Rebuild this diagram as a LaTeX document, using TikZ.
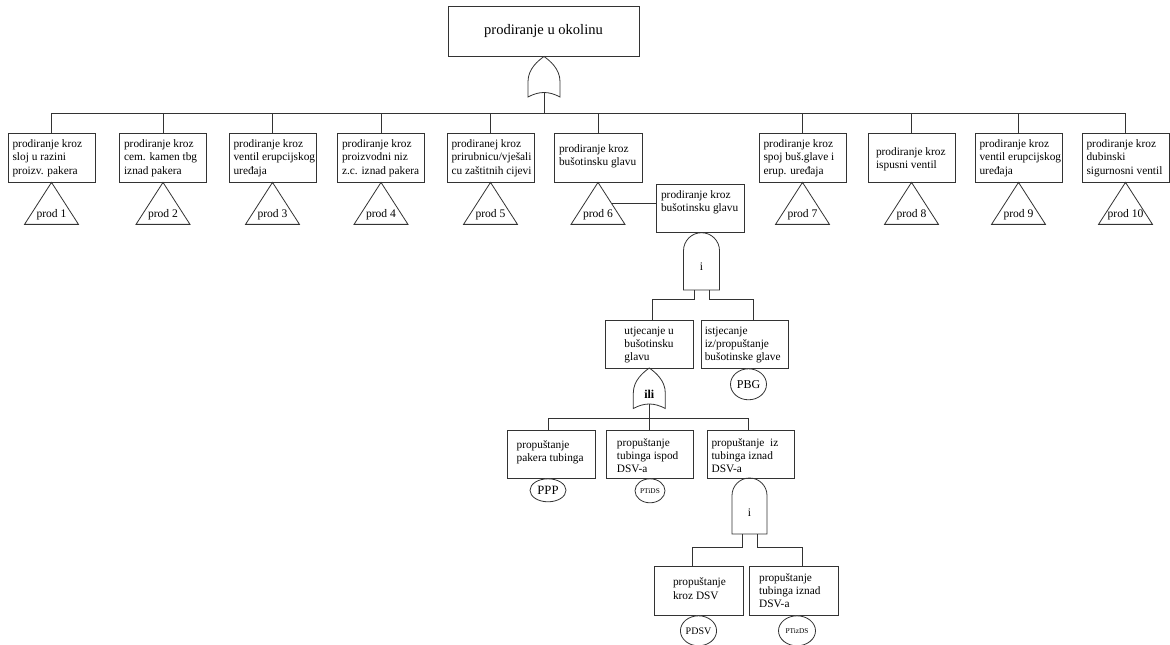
\documentclass[tikz,border=0pt]{standalone}
\usepackage{fontspec}
\setmainfont{Liberation Serif}
\usetikzlibrary{calc,shapes.geometric}
\tikzset{
  ln/.style={draw=black!80, line width=0.6pt},
  bx/.style={draw=black!80, line width=0.6pt, inner sep=0pt, minimum width=65.25pt, minimum height=36.75pt, font=\fontsize{8.5}{10}\selectfont},
  lbl/.style={inner sep=0pt, font=\fontsize{8.7}{10}\selectfont},
  evt/.style={ellipse, draw=black!80, line width=0.6pt, inner sep=0pt, fill=white}
}
\newcommand\boxtext[3]{\parbox[c][33pt][t]{64pt}{\raggedright\leftskip=#2\relax\rule{0pt}{#1}#3}}
\newcommand\orgate[4]{%
  \draw[ln] ({#1-#3},#4) -- ({#1-#3},{#4-0.38*(#4-#2)})
    .. controls ({#1-#3},{#2+0.3*(#4-#2)}) and ({#1-0.35*#3},{#2+0.1*(#4-#2)}) .. (#1,#2)
    .. controls ({#1+0.35*#3},{#2+0.1*(#4-#2)}) and ({#1+#3},{#2+0.3*(#4-#2)}) .. ({#1+#3},{#4-0.38*(#4-#2)})
    -- ({#1+#3},#4) .. controls ({#1+0.3*#3},{#4-6}) and ({#1-0.3*#3},{#4-6}) .. cycle;}
\newcommand\andgate[4]{%
  \draw[ln] ({#1-#3},#4) -- ({#1-#3},{#2+#3})
    .. controls ({#1-#3},{#2+0.448*#3}) and ({#1-0.552*#3},#2) .. (#1,#2)
    .. controls ({#1+0.552*#3},#2) and ({#1+#3},{#2+0.448*#3}) .. ({#1+#3},{#2+#3})
    -- ({#1+#3},#4) -- cycle;}
\begin{document}
\begin{tikzpicture}[x=0.75pt,y=-0.75pt]
\fill[white] (0,0) rectangle (1170,645);
\useasboundingbox (0,0) rectangle (1170,645);

% top event
\node[bx, minimum width=143.25pt, minimum height=37.5pt, font=\fontsize{10.9}{13}\selectfont] (top) at (543.5,31) {prodiranje u okolinu};
\orgate{544}{56.5}{16}{97}
\coordinate (g0out) at (544,92.5);
\coordinate (bus) at (0,113);
\draw[ln] (g0out) -- (g0out |- bus);

% first row
\node[bx] (b1) at (51.5,157.5) {\boxtext{9pt}{2.8pt}{prodiranje kroz\\sloj u razini\\proizv. pakera}};
\node[bx] (b2) at (163,157.5) {\boxtext{9pt}{2.8pt}{prodiranje kroz\\cem. kamen tbg\\iznad pakera}};
\node[bx] (b3) at (272.5,157.5) {\boxtext{9pt}{2.8pt}{prodiranje kroz\\ventil erupcijskog\\uređaja}};
\node[bx] (b4) at (381,157.5) {\boxtext{9pt}{2.8pt}{prodiranje kroz\\proizvodni niz\\z.c. iznad pakera}};
\node[bx] (b5) at (490.5,157.5) {\boxtext{9pt}{2.8pt}{prodiranej kroz\\prirubnicu/vješali\\cu zaštitnih cijevi}};
\node[bx, minimum width=66pt] (b6) at (598,157.5) {\boxtext{12.4pt}{2.8pt}{prodiranje kroz\\bušotinsku glavu}};
\node[bx] (b7) at (802.5,157.5) {\boxtext{9pt}{2.8pt}{prodiranje kroz\\spoj buš.glave i\\erup. uređaja}};
\node[bx] (b8) at (911.5,157.5) {\boxtext{15pt}{5.4pt}{prodiranje kroz\\ispusni ventil}};
\node[bx] (b9) at (1018.5,157.5) {\boxtext{9pt}{2.8pt}{prodiranje kroz\\ventil erupcijskog\\uređaja}};
\node[bx] (b10) at (1125.5,157.5) {\boxtext{9pt}{2.8pt}{prodiranje kroz\\dubinski\\sigurnosni ventil}};

\draw[ln] (b1.north |- bus) -- (b10.north |- bus);
\foreach \i in {1,...,10} {
  \draw[ln] (b\i.north) -- (b\i.north |- bus);
  \draw[ln] (b\i.south) -- ++(-27,42) -- ++(54,0) -- cycle;
  \node[lbl] (p\i) at ($(b\i.south)+(0,32)$) {prod \i};
}

% transfer of prod 6
\node[bx, minimum width=66pt, minimum height=36.5pt] (b11) at (700,208.4) {\boxtext{9pt}{2.8pt}{prodiranje kroz\\bušotinsku glavu}};
\coordinate (t6r) at ($(b6.south)+(13.5,21)$);
\draw[ln] (t6r) -- (t6r -| b11.west);

% AND gate 1
\andgate{701.5}{232.7}{18}{290}
\node[lbl] (ga1) at (701.5,267) {i};
\coordinate (a1l) at (694,290);
\coordinate (a1r) at (709,290);

\node[bx, minimum width=66pt, minimum height=36pt] (b21) at (649,344) {\boxtext{9pt}{13.6pt}{utjecanje u\\bušotinsku\\glavu}};
\node[bx, minimum height=36pt] (b22) at (744.5,344) {\boxtext{9pt}{2.2pt}{istjecanje\\iz/propuštanje\\bušotinske glave}};
\draw[ln] (a1l) -- ++(0,9) -| ($(b21.north)+(3,0)$);
\draw[ln] (a1r) -- ++(0,9) -| ($(b22.north)+(8.5,0)$);
\node[evt, minimum width=27pt, minimum height=23.25pt, anchor=north, font=\fontsize{9}{10}\selectfont] (pbg) at ($(b22.south)+(4,0)$) {PBG};

% OR gate ili
\orgate{649.3}{368}{16}{408.5}
\node[lbl, font=\fontsize{9}{10}\selectfont\bfseries] (go1) at (649.3,394) {ili};
\coordinate (o1) at (649.3,404);
\coordinate (bus2) at (0,418);

\node[bx, minimum width=66pt, minimum height=36pt] (b31) at (551,454) {\boxtext{12.4pt}{6.2pt}{propuštanje\\pakera tubinga}};
\node[bx, minimum height=36pt] (b32) at (649.5,454) {\boxtext{10.5pt}{7.6pt}{propuštanje\\tubinga ispod\\DSV-a}};
\node[bx, minimum height=36pt] (b33) at (750.5,454) {\boxtext{10.5pt}{2.8pt}{propuštanje\ \ iz\\tubinga iznad\\DSV-a}};
\coordinate (d31) at ($(b31.north)+(-3,0)$);
\coordinate (d33) at ($(b33.north)+(-2.5,0)$);
\draw[ln] (o1) -- (o1 |- bus2);
\draw[ln] (d31 |- bus2) -- (d33 |- bus2);
\draw[ln] (d31 |- bus2) -- (d31);
\draw[ln] (b32.north |- bus2) -- (b32.north);
\draw[ln] (d33 |- bus2) -- (d33);
\node[evt, minimum width=27pt, minimum height=17.25pt, anchor=north, font=\fontsize{9.5}{10}\selectfont] (ppp) at ($(b31.south)+(-3,0)$) {PPP};
\node[evt, minimum width=22.5pt, minimum height=18pt, anchor=north, font=\fontsize{5.5}{6}\selectfont] (ptids) at ($(b32.south)+(0.5,0)$) {PTiDS};

% AND gate 2
\andgate{749.5}{478}{17.5}{534}
\node[lbl] (ga2) at (749.5,513) {i};
\coordinate (a2l) at (742,534);
\coordinate (a2r) at (757,534);

\node[bx, minimum width=66.75pt] (b41) at (698.5,590.5) {\boxtext{13.1pt}{12.9pt}{propuštanje\\kroz DSV}};
\node[bx, minimum width=66.75pt] (b42) at (793.5,590.5) {\boxtext{9.4pt}{6.2pt}{propuštanje\\tubinga iznad\\DSV-a}};
\draw[ln] (a2l) -- ++(0,13) -| ($(b41.north)+(-6.5,0)$);
\draw[ln] (a2r) -- ++(0,13) -| ($(b42.north)+(8.5,0)$);
\node[evt, minimum width=26.25pt, minimum height=22.5pt, anchor=north, font=\fontsize{7.5}{8}\selectfont] (pdsv) at (b41.south) {PDSV};
\node[evt, minimum width=27.75pt, minimum height=22.5pt, anchor=north, font=\fontsize{5.5}{6}\selectfont] (ptizds) at ($(b42.south)+(3.5,0)$) {PTizDS};
\end{tikzpicture}
\end{document}
